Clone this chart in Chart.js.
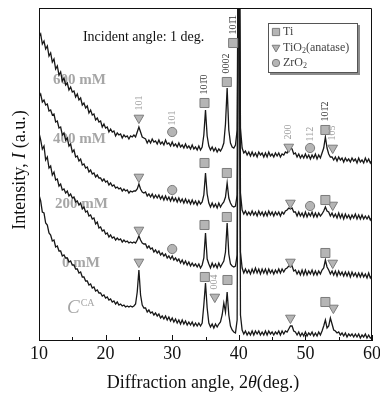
<!DOCTYPE html>
<html>
<head>
<meta charset="utf-8">
<script src="https://cdn.jsdelivr.net/npm/chart.js@4.4.0/dist/chart.umd.min.js"></script>
<style>
  html, body { margin: 0; padding: 0; background: #fff; }
  #wrap { width: 380px; height: 396px; }
</style>
</head>
<body>
<div id="wrap"><canvas id="xrd"></canvas></div>
<script>
// 2theta sampling: 10 to 60 deg, every 0.25 deg
const angleStart = 10, angleStep = 0.25;

// intensities (a.u.), one row per 2 deg
const i600 = [
  303,306,296,299,291,294,284,287, 278,281,271,274,265,268,259,262,
  255,257,250,253,248,249,243,246, 240,242,235,237,232,234,227,230,
  225,226,220,222,218,219,213,216, 212,213,208,211,208,209,204,207,
  205,206,202,205,203,204,201,204, 203,205,203,208,213,208,203,202,
  201,197,200,197,201,198,199,196, 200,196,198,195,200,196,197,194,
  198,194,196,193,197,193,195,192, 196,192,194,191,195,191,193,190,
  194,190,193,205,230,204,194,190, 193,189,192,188,191,189,192,197,
  216,252,210,197,193,192,195,210, 520,212,192,187,189,185,188,184,
  188,184,187,183,188,185,187,183, 187,183,188,184,186,183,187,184,
  187,183,186,185,188,187,191,192, 191,186,187,183,186,182,185,182,
  186,182,185,181,185,182,186,181, 185,182,187,192,203,192,186,183,
  183,180,183,179,183,180,182,178, 182,179,181,178,182,179,181,177,
  182,178,180,177,182,178,181,177, 180
];
const i400 = [
  243,246,238,240,235,236,229,230, 225,226,218,219,212,213,205,207,
  200,202,194,196,188,190,183,184, 179,181,175,176,172,173,168,170,
  166,167,163,165,162,162,159,161, 158,159,155,157,154,155,152,153,
  151,152,149,151,149,150,147,149, 148,149,149,151,156,151,148,147,
  148,144,146,143,146,142,145,142, 145,141,144,140,144,140,143,139,
  143,139,142,138,142,138,141,137, 141,137,140,136,140,136,139,135,
  139,136,138,145,167,146,137,133, 137,133,136,132,137,133,136,138,
  143,157,142,137,134,133,134,145, 520,147,130,126,129,125,128,125,
  129,125,128,124,129,125,128,124, 128,124,129,125,128,124,128,125,
  128,124,128,126,129,130,132,131, 132,128,128,124,128,124,127,123,
  128,123,127,124,128,123,127,123, 127,124,126,129,133,129,128,124,
  127,123,126,122,127,122,126,121, 126,122,125,121,125,122,126,121,
  125,121,125,121,124,121,124,120, 123
];
const i200 = [
  207,200,191,194,180,183,172,174, 165,168,160,161,154,156,150,151,
  147,149,144,146,142,143,138,139, 135,137,131,133,128,129,124,125,
  121,122,116,118,112,113,109,110, 106,107,103,105,102,103,100,102,
  100,101,98,100,98,99,97,98,       97,98,97,100,104,100,97,96,
  96,92,94,91,92,88,90,87,          89,85,87,84,86,82,84,81,
  84,80,82,79,81,77,80,76,          79,75,78,74,77,74,76,73,
  76,72,75,82,107,81,76,72,         77,73,76,72,77,73,76,79,
  88,117,86,76,74,73,74,85,         520,88,72,67,71,67,70,66,
  71,67,72,67,71,66,71,67,          71,66,71,67,70,66,70,67,
  71,67,71,68,71,72,74,73,          74,69,70,66,69,65,70,65,
  70,65,69,66,70,65,69,65,          69,66,70,72,80,73,70,66,
  69,65,69,64,69,65,68,64,          68,64,68,63,68,64,67,63,
  67,63,67,63,66,62,67,62,          65
];
const i0 = [
  145,139,128,127,117,115,107,105, 99,100,93,94,89,89,84,85,
  82,82,78,79,75,75,71,71,         67,68,63,63,59,59,55,56,
  52,53,49,50,47,47,44,45,         42,43,40,41,38,39,36,38,
  35,36,34,35,33,34,33,34,         33,34,36,48,70,45,35,32,
  32,28,30,27,28,25,27,24,         26,22,24,21,24,20,23,19,
  22,18,21,17,20,16,20,16,         19,15,18,15,18,14,17,14,
  17,14,17,35,57,32,17,13,         16,12,16,13,16,18,25,37,
  28,48,25,14,10,8,7,20,           520,25,10,6,9,5,8,5,
  9,5,9,6,9,5,8,5,                 9,5,9,6,8,5,8,6,
  9,5,9,6,9,8,11,14,               14,9,8,5,8,4,7,4,
  8,4,7,5,8,4,7,4,                 8,5,9,14,20,12,14,22,
  16,10,9,7,8,5,7,4,               7,3,6,4,6,3,6,3,
  6,2,5,3,6,2,5,2,                 3
];

// phase markers: angle, height, tag
const tiAngle = [34.85, 38.2, 39.15, 53.0, 34.85, 38.2, 53.0, 34.85, 38.2, 53.0, 34.9, 38.3, 53.0];
const tiLevel = [237, 258, 297, 210, 177, 167, 140, 115, 123, 87, 63, 60, 38];
const tiTag = ['101\u03040', '0002', '101\u03041', '101\u03042', '', '', '', '', '', '', '', '', ''];

const anaAngle = [25.0, 47.5, 54.1, 25.0, 47.75, 54.1, 25.0, 47.75, 54.1, 25.0, 36.4, 47.75, 54.2];
const anaLevel = [222, 193, 192, 163, 137, 135, 110, 78, 77, 78, 43, 22, 32];
const anaTag = ['101', '200', '105', '', '', '', '', '', '', '', '004', '', ''];

const zrAngle = [30.0, 50.7, 30.0, 50.7, 30.0];
const zrLevel = [208, 192, 150, 134, 91];
const zrTag = ['101', '112', '', '', ''];

const xTicks = [10, 20, 30, 40, 50, 60];

const SERIF = '"Liberation Serif", "Times New Roman", serif';
const GREY = '#a6a6a6';

const markerStyle = {
  ti:  { pointStyle: 'rect', rotation: 0, radius: 6.4, tagColor: '#333' },
  ana: { pointStyle: 'triangle', rotation: 180, radius: 5.6, tagColor: '#9c9c9c' },
  zr:  { pointStyle: 'circle', rotation: 0, radius: 4.6, tagColor: '#9c9c9c' }
};

function toPoints(vals) {
  return vals.map((v, i) => ({ x: angleStart + i * angleStep, y: v }));
}

function curve(vals) {
  return {
    data: toPoints(vals),
    borderColor: '#181818',
    borderWidth: 1.3,
    pointRadius: 0,
    tension: 0,
    order: 1
  };
}

function markers(angles, levels, st) {
  return {
    data: angles.map((a, i) => ({ x: a, y: levels[i] })),
    showLine: false,
    pointStyle: st.pointStyle,
    rotation: st.rotation,
    pointRadius: st.radius,
    backgroundColor: '#b5b5b5',
    borderColor: '#7c7c7c',
    borderWidth: 1,
    order: 0
  };
}

// write pieces of text side by side, centred on cx
function drawPieces(ctx, pieces, cx, y) {
  let total = 0;
  pieces.forEach(p => { ctx.font = p.font; p.w = ctx.measureText(p.text).width; total += p.w; });
  let x = cx - total / 2;
  pieces.forEach(p => {
    ctx.font = p.font;
    ctx.fillText(p.text, x, y + (p.dy || 0));
    x += p.w;
  });
}

// sample names sit left of the curves
const sampleNotes = [
  { text: '600 mM', angle: 12.1, level: 260 },
  { text: '400 mM', angle: 12.1, level: 201 },
  { text: '200 mM', angle: 12.4, level: 136 },
  { text: '0 mM', angle: 13.45, level: 77 }
];

const notesPlugin = {
  id: 'notes',
  beforeDatasetsDraw(chart) {
    const { ctx, scales: { x, y } } = chart;
    ctx.save();
    ctx.fillStyle = GREY;
    ctx.textAlign = 'left';
    ctx.textBaseline = 'middle';
    ctx.font = 'bold 15px ' + SERIF;
    sampleNotes.forEach(n => {
      ctx.fillText(n.text, x.getPixelForValue(n.angle), y.getPixelForValue(n.level));
    });
    // C^CA
    const cx = x.getPixelForValue(14.2), cy = y.getPixelForValue(27);
    ctx.textBaseline = 'alphabetic';
    ctx.font = 'italic 19px ' + SERIF;
    ctx.fillText('C', cx, cy);
    const w = ctx.measureText('C').width;
    ctx.font = '10px ' + SERIF;
    ctx.fillText('CA', cx + w + 1, cy - 7);

    ctx.fillStyle = '#111';
    ctx.font = '14px ' + SERIF;
    ctx.textBaseline = 'middle';
    ctx.fillText('Incident angle: 1 deg.', x.getPixelForValue(16.6), y.getPixelForValue(303));
    ctx.restore();
  }
};

const tagsPlugin = {
  id: 'tags',
  afterDatasetsDraw(chart) {
    const { ctx, scales: { x, y } } = chart;
    const groups = [
      [tiAngle, tiLevel, tiTag, markerStyle.ti],
      [anaAngle, anaLevel, anaTag, markerStyle.ana],
      [zrAngle, zrLevel, zrTag, markerStyle.zr]
    ];
    ctx.save();
    ctx.font = '10px ' + SERIF;
    ctx.textAlign = 'left';
    ctx.textBaseline = 'middle';
    groups.forEach(([angles, levels, tags, st]) => {
      ctx.fillStyle = st.tagColor;
      tags.forEach((t, i) => {
        if (!t) return;
        const px = x.getPixelForValue(angles[i]);
        const py = y.getPixelForValue(levels[i]) - st.radius - 2;
        ctx.save();
        ctx.translate(px, py);
        ctx.rotate(-Math.PI / 2);
        ctx.fillText(t, 0, 0);
        ctx.restore();
      });
    });
    ctx.restore();
  }
};

const framePlugin = {
  id: 'frame',
  afterDraw(chart) {
    const { ctx, chartArea: a, scales: { x } } = chart;
    ctx.save();
    ctx.strokeStyle = '#111';
    ctx.lineWidth = 1;
    ctx.beginPath();
    ctx.moveTo(a.left, a.top + 0.5);
    ctx.lineTo(a.right - 0.5, a.top + 0.5);
    ctx.lineTo(a.right - 0.5, a.bottom);
    // inward ticks on the bottom axis
    for (let v = 10; v <= 60; v += 5) {
      const px = Math.round(x.getPixelForValue(v)) + 0.5;
      const len = v % 10 === 0 ? 5 : 3;
      ctx.moveTo(px, a.bottom);
      ctx.lineTo(px, a.bottom - len);
    }
    ctx.stroke();

    // axis titles
    ctx.fillStyle = '#111';
    ctx.textAlign = 'left';
    ctx.textBaseline = 'alphabetic';
    drawPieces(ctx, [
      { text: 'Diffraction angle, 2', font: '18px ' + SERIF },
      { text: '\u03b8', font: 'italic 18px ' + SERIF },
      { text: '(deg.)', font: '18px ' + SERIF }
    ], 203, 388);
    ctx.translate(25, 170);
    ctx.rotate(-Math.PI / 2);
    drawPieces(ctx, [
      { text: 'Intensity, ', font: '18px ' + SERIF },
      { text: 'I', font: 'italic 18px ' + SERIF },
      { text: ' (a.u.)', font: '18px ' + SERIF }
    ], 0, 0);
    ctx.restore();
  }
};

const keyPlugin = {
  id: 'key',
  afterDraw(chart) {
    const { ctx, chartArea: a } = chart;
    const bw = 89, bh = 49;
    const bx = a.right - 15 - bw, by = a.top + 15;
    ctx.save();
    ctx.fillStyle = '#8c8c8c';
    ctx.fillRect(bx + 2, by + 2, bw + 1, bh + 1);
    ctx.fillStyle = '#fff';
    ctx.fillRect(bx, by, bw, bh);
    ctx.strokeStyle = '#555';
    ctx.lineWidth = 1;
    ctx.strokeRect(bx + 0.5, by + 0.5, bw, bh);

    const rows = [
      [markerStyle.ti, [{ text: 'Ti' }]],
      [markerStyle.ana, [{ text: 'TiO' }, { text: '2', sub: true }, { text: '(anatase)' }]],
      [markerStyle.zr, [{ text: 'ZrO' }, { text: '2', sub: true }]]
    ];
    rows.forEach(([st, parts], k) => {
      const ry = by + 9 + k * 15.5;
      ctx.fillStyle = '#b5b5b5';
      ctx.strokeStyle = '#7c7c7c';
      Chart.helpers.drawPoint(ctx, {
        pointStyle: st.pointStyle, rotation: st.rotation,
        radius: st.radius * 0.8, borderWidth: 1
      }, bx + 8, ry);
      let tx = bx + 15;
      ctx.fillStyle = '#444';
      ctx.textBaseline = 'middle';
      ctx.textAlign = 'left';
      parts.forEach(p => {
        ctx.font = (p.sub ? '8px ' : '12px ') + SERIF;
        ctx.fillText(p.text, tx, ry + (p.sub ? 3 : 0));
        tx += ctx.measureText(p.text).width;
      });
    });
    ctx.restore();
  }
};

new Chart(document.getElementById('xrd'), {
  type: 'line',
  data: {
    datasets: [
      markers(tiAngle, tiLevel, markerStyle.ti),
      markers(anaAngle, anaLevel, markerStyle.ana),
      markers(zrAngle, zrLevel, markerStyle.zr),
      curve(i600), curve(i400), curve(i200), curve(i0)
    ]
  },
  options: {
    responsive: true,
    maintainAspectRatio: false,
    animation: false,
    layout: { padding: { top: 8, right: 8, left: 0, bottom: 0 } },
    plugins: { legend: { display: false }, tooltip: { enabled: false } },
    scales: {
      x: {
        type: 'linear',
        min: 10,
        max: 60,
        afterFit: s => { s.height = 56; s.paddingLeft = 0; s.paddingRight = 0; },
        afterBuildTicks: s => { s.ticks = xTicks.map(v => ({ value: v })); },
        ticks: { font: { family: SERIF, size: 18 }, color: '#111', padding: 3, maxRotation: 0 },
        grid: { display: false, drawTicks: false },
        border: { color: '#111', width: 1 }
      },
      y: {
        min: 0,
        max: 332,
        afterFit: s => { s.width = 39; },
        ticks: { display: false },
        grid: { display: false, drawTicks: false },
        border: { color: '#111', width: 1 }
      }
    }
  },
  plugins: [notesPlugin, tagsPlugin, framePlugin, keyPlugin]
});
</script>
</body>
</html>
